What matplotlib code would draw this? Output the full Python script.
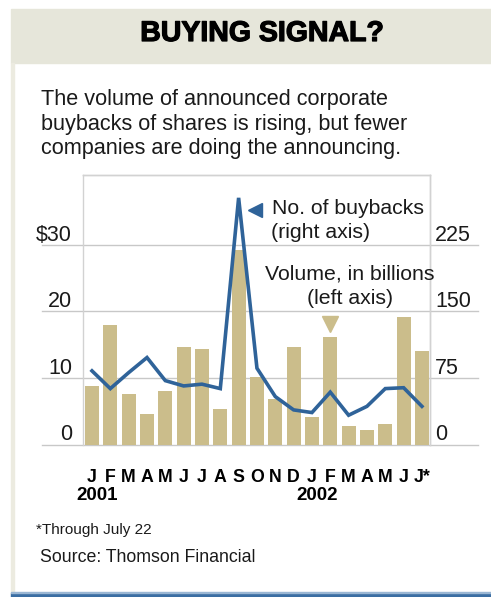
import numpy as np
import matplotlib.pyplot as plt
import matplotlib.patheffects as pe
from matplotlib.transforms import blended_transform_factory
from matplotlib.patches import Rectangle
from matplotlib.lines import Line2D

# data
months = ['J', 'F', 'M', 'A', 'M', 'J', 'J', 'A', 'S', 'O', 'N', 'D',
          'J', 'F', 'M', 'A', 'M', 'J', 'J*']
volume = [8.8, 18.0, 7.6, 4.6, 8.0, 14.6, 14.3, 5.3, 29.3, 10.1, 6.8, 14.6,
          4.1, 16.1, 2.8, 2.2, 3.1, 19.1, 14.0]          # $ billions, left axis
buybacks = [83, 63, 81, 98, 72, 66, 68, 63, 278, 86, 54, 39,
            36, 59, 33, 43, 63, 64, 43]                  # count, right axis
left_ticks = [0, 10, 20, 30]
left_labels = ['0', '10', '20', '$30']
right_labels = ['0', '75', '150', '225']
years = ['2001', '2002']
year_start = [0, 12]

TAN = '#cbbd8b'
BLUE = '#2f6399'
BAND = '#e6e6da'
GRID = '#c8c8c8'
FRAME = '#d2d2d2'
INK = '#1a1a1a'
FONT = 'Liberation Sans'

W, H = 491, 597
fig = plt.figure(figsize=(W / 100, H / 100), dpi=100)
fig.patch.set_facecolor('white')

def fx(px):
    return px / W

def fy(py):
    return 1 - py / H

# background pieces: title band, left strip, blue rule at the bottom
fig.patches.append(Rectangle((fx(11), fy(63)), fx(480), 54 / H,
                             transform=fig.transFigure, color=BAND, zorder=0))
fig.patches.append(Rectangle((fx(11), fy(593)), fx(2.5), 530 / H,
                             transform=fig.transFigure, color='#ecebe0', zorder=0))
fig.patches.append(Rectangle((fx(11), 0), fx(480), 4 / H,
                             transform=fig.transFigure, color='#3b6ea3', zorder=0))
fig.patches.append(Rectangle((fx(11), 4 / H), fx(480), 1.2 / H,
                             transform=fig.transFigure, color='#9bb7d4', zorder=0))

fig.text(fx(262), fy(34), 'BUYING SIGNAL?', ha='center', va='center',
         fontsize=20.5, fontweight='bold', family=FONT,
         path_effects=[pe.withStroke(linewidth=0.9, foreground='black')])
subtitle = ['The volume of announced corporate',
            'buybacks of shares is rising, but fewer',
            'companies are doing the announcing.']
for i, line in enumerate(subtitle):
    fig.text(fx(41), fy(100 + 24.5 * i), line, ha='left', va='center',
             fontsize=15.6, family=FONT, color=INK)

ax = fig.add_axes([fx(83), fy(444.5), 347 / W, 269.5 / H])
x = np.arange(len(months))
ax.bar(x, volume, width=0.76, color=TAN, zorder=2)
ax.set_xlim(-0.49, 18.44)
ax.set_ylim(0, 40.5)

ax2 = ax.twinx()
ax2.plot(x, buybacks, color=BLUE, lw=2.6, solid_joinstyle='miter', zorder=3)
ax2.set_ylim(0, 40.5 * 7.5)

for a in (ax, ax2):
    a.set_yticks([])
    a.spines['bottom'].set_visible(False)
    for s in ('left', 'right', 'top'):
        a.spines[s].set_color(FRAME)
        a.spines[s].set_linewidth(1)
ax2.spines['left'].set_visible(False)

# gridlines run out under the tick labels
for v in left_ticks:
    ax.axhline(v, xmin=(42 - 83) / 347, xmax=(478 - 83) / 347, color=GRID,
               lw=1, clip_on=False, zorder=1)

tl = blended_transform_factory(ax.transAxes, ax.transData)
for v, lab, rlab in zip(left_ticks, left_labels, right_labels):
    ax.annotate(lab, xy=((72 - 83) / 347, v), xycoords=tl, xytext=(0, 3),
                textcoords='offset points', ha='right', va='baseline',
                fontsize=15.5, family=FONT, color=INK, annotation_clip=False)
    ax.annotate(rlab, xy=((435 - 83) / 347, v), xycoords=tl, xytext=(0, 3),
                textcoords='offset points', ha='left', va='baseline',
                fontsize=15.5, family=FONT, color=INK, annotation_clip=False)

ax.set_xticks(x)
ax.set_xticklabels(months, fontsize=12.8, fontweight='bold', family=FONT)
ax.tick_params(axis='x', length=0, pad=18)

tx = blended_transform_factory(ax.transData, ax.transAxes)
for yr, i in zip(years, year_start):
    ax.text(i + 0.3, -0.191, yr, transform=tx, ha='center', va='center',
            fontsize=13.5, fontweight='bold', family=FONT)

# legend-style labels with pointer triangles
fig.add_artist(Line2D([fx(255)], [fy(210)], marker='<', ms=10, color=BLUE, lw=0))
fig.text(fx(272), fy(209), 'No. of buybacks', ha='left', va='center',
         fontsize=15.3, family=FONT, color=INK)
fig.text(fx(271), fy(233), '(right axis)', ha='left', va='center',
         fontsize=15.3, family=FONT, color=INK)
fig.text(fx(350), fy(274), 'Volume, in billions', ha='center', va='center',
         fontsize=15.3, family=FONT, color=INK)
fig.text(fx(350), fy(299), '(left axis)', ha='center', va='center',
         fontsize=15.3, family=FONT, color=INK)
ax.plot(13, volume[13] + 2.0, marker='v', ms=12, color=TAN, clip_on=False, zorder=4)

fig.text(fx(36), fy(530), '*Through July 22', ha='left', va='center',
         fontsize=11, family=FONT, color=INK)
fig.text(fx(40), fy(557), 'Source: Thomson Financial', ha='left', va='center',
         fontsize=12.8, family=FONT, color=INK)

fig.savefig('out.png', dpi=100)
